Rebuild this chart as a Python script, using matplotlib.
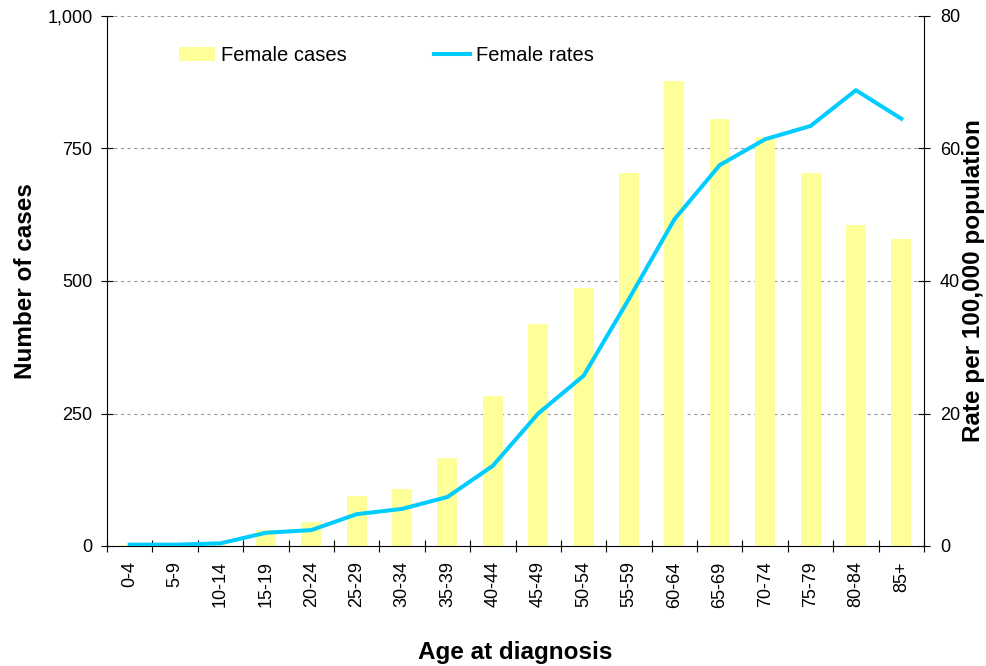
import matplotlib
matplotlib.use("Agg")
import matplotlib.pyplot as plt
import numpy as np
from matplotlib.ticker import FuncFormatter, FixedLocator, NullFormatter
from matplotlib.patches import Patch
from matplotlib.lines import Line2D

plt.rcParams['font.family'] = ['Liberation Sans', 'DejaVu Sans']

categories = ["0-4", "5-9", "10-14", "15-19", "20-24", "25-29", "30-34", "35-39",
              "40-44", "45-49", "50-54", "55-59", "60-64", "65-69", "70-74",
              "75-79", "80-84", "85+"]
female_cases = [2, 0, 2, 30, 45, 95, 108, 166, 283, 419, 487, 704, 877, 806, 771, 703, 606, 579]
female_rates = [0.2, 0.2, 0.4, 2.0, 2.4, 4.8, 5.6, 7.4, 12.1, 20.0, 25.7, 37.3, 49.3, 57.5,
                61.4, 63.4, 68.8, 64.5]

fig = plt.figure(figsize=(9.86, 6.66), dpi=100)
ax = fig.add_axes([107/986, 1-546/666, (924-107)/986, (546-16)/666])
ax2 = ax.twinx()

x = np.arange(len(categories))
bar_color = '#FFFF99'
line_color = '#00CCFF'

ax.bar(x, female_cases, width=0.44, color=bar_color, zorder=2)
ax.set_xlim(-0.5, len(categories) - 0.5)
ax.set_ylim(0, 1000)
ax.set_yticks([0, 250, 500, 750, 1000])
ax.yaxis.set_major_formatter(FuncFormatter(lambda v, p: f"{int(v):,}"))
for yv in [250, 500, 750, 1000]:
    ax.axhline(yv, color='#999999', linestyle=(0, (3, 3)), linewidth=0.8, zorder=1)

ax2.plot(x, female_rates, color=line_color, linewidth=2.9, zorder=3)
ax2.set_ylim(0, 80)
ax2.set_yticks([0, 20, 40, 60, 80])

# x ticks at boundaries, labels at centers
ax.xaxis.set_major_locator(FixedLocator(np.arange(-0.5, len(categories), 1.0)))
ax.xaxis.set_major_formatter(NullFormatter())
ax.xaxis.set_minor_locator(FixedLocator(x))
ax.set_xticklabels(categories, minor=True, rotation=90, fontsize=13)
ax.tick_params(axis='x', which='minor', length=0, pad=11)
ax.tick_params(axis='x', which='major', direction='inout', length=9, width=0.8)
ax.tick_params(axis='y', direction='inout', length=9, width=0.8, labelsize=13, pad=6)
ax2.tick_params(axis='y', direction='inout', length=9, width=0.8, labelsize=13, pad=7)

for a in (ax, ax2):
    a.spines['top'].set_visible(False)
ax.spines['right'].set_visible(False)
ax2.spines['left'].set_visible(False)
ax2.spines['bottom'].set_visible(False)

ax.set_ylabel("Number of cases", fontsize=17.5, fontweight='bold', labelpad=7)
ax2.set_ylabel("Rate per 100,000 population", fontsize=17.5, fontweight='bold', labelpad=1)
ax.set_xlabel("Age at diagnosis", fontsize=17.5, fontweight='bold', labelpad=24)

handles = [Patch(facecolor=bar_color, edgecolor='none'),
           Line2D([0], [0], color=line_color, linewidth=2.9)]
ax.legend(handles, ["Female cases", "Female rates"], loc='center left',
          bbox_to_anchor=(72/817, (546-56)/530), ncol=2, frameon=False, fontsize=14.5,
          columnspacing=4.3, handlelength=1.8, handletextpad=0.3,
          borderpad=0, borderaxespad=0)

fig.savefig("out.png", dpi=100)
